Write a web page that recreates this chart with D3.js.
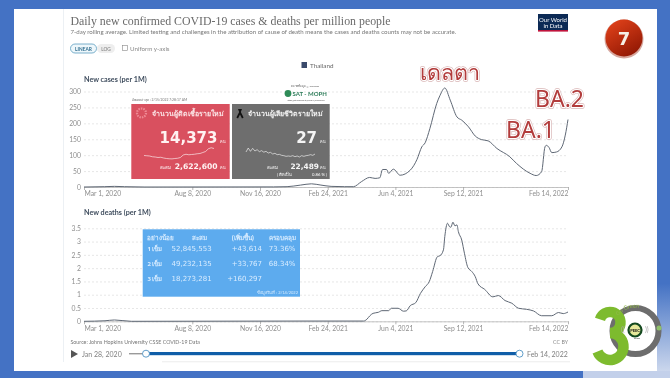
<!DOCTYPE html>
<html>
<head>
<meta charset="utf-8">
<script src="https://cdn.jsdelivr.net/npm/d3@7"></script>
<style>
html, body { margin: 0; padding: 0; background: #4472c4; overflow: hidden; }
svg { display: block; filter: blur(0.4px); font-family: Lato, "Noto Sans", sans-serif; }
.axis text { font-family: Lato, sans-serif; font-size: 6.8px; fill: #8f8f8f; }
.axis .tick line { stroke: #dddddd; stroke-dasharray: 2,2; stroke-width: 0.7; }
.x-axis .tick line { stroke: #999; stroke-dasharray: none; }
.domain { stroke: #b5b5b5; stroke-width: 0.8; }
</style>
</head>
<body>
<div id="chart"></div>
<script>
var caseDates = ["2020-03-01","2020-03-31","2020-04-15","2020-04-30","2020-05-30","2020-12-06","2020-12-26","2021-01-15","2021-01-31","2021-02-14","2021-03-01","2021-03-21","2021-04-03","2021-04-15","2021-04-27","2021-05-05","2021-05-12","2021-05-16","2021-05-22","2021-05-25","2021-06-01","2021-06-11","2021-06-26","2021-07-06","2021-07-13","2021-07-18","2021-07-25","2021-08-04","2021-08-09","2021-08-16","2021-08-24","2021-09-03","2021-09-10","2021-09-20","2021-09-30","2021-10-09","2021-10-19","2021-11-01","2021-11-20","2021-11-30","2021-12-20","2021-12-29","2022-01-06","2022-01-11","2022-01-13","2022-01-17","2022-01-21","2022-01-28","2022-02-05","2022-02-10","2022-02-14"];
var caseValues = [0,1,2,1,0,0.3,1,6,10,6,2,1,1,17,30,27,29,55,55,43,56,37,53,87,126,139,184,262,288,311,273,220,210,189,160,149,145,121,95,74,43,36,48,126,131,124,108,110,126,163,212];

var deathDates = ["2020-03-01","2020-04-01","2020-04-15","2020-05-10","2021-01-20","2021-04-18","2021-04-23","2021-04-27","2021-05-02","2021-05-10","2021-05-15","2021-05-25","2021-05-29","2021-06-08","2021-06-16","2021-06-20","2021-06-26","2021-07-04","2021-07-11","2021-07-18","2021-07-24","2021-07-29","2021-08-05","2021-08-09","2021-08-14","2021-08-16","2021-08-20","2021-08-23","2021-08-25","2021-08-28","2021-08-31","2021-09-03","2021-09-05","2021-09-10","2021-09-14","2021-09-19","2021-09-25","2021-09-30","2021-10-04","2021-10-14","2021-10-26","2021-11-03","2021-11-13","2021-11-23","2021-12-03","2021-12-15","2021-12-25","2022-01-06","2022-01-21","2022-01-31","2022-02-07","2022-02-14"];
var deathValues = [0,0.02,0.05,0,0.01,0.01,0.08,0.2,0.3,0.34,0.4,0.4,0.49,0.49,0.38,0.39,0.59,0.7,1.05,1.3,1.49,1.87,2.43,2.47,2.69,3.19,3.69,3.56,3.54,3.73,3.59,3.63,3.38,3.06,2.56,2.03,1.87,1.68,1.41,1.2,0.92,0.97,0.78,0.68,0.49,0.45,0.39,0.21,0.21,0.33,0.29,0.35];

var tickDates = ["2020-03-01","2020-08-08","2020-11-16","2021-02-24","2021-06-04","2021-09-12","2022-02-14"];
var caseTicks = [0,50,100,150,200,250,300];
var deathTicks = [0,0.5,1,1.5,2,2.5,3,3.5];

var redSpark = [8.2,8.0,7.8,7.2,7.0,6.6,6.8,6.2,5.8,5.6,5.5,5.8,6.0,6.6,8.6,9.2,8.8,9.0,9.2,9.6,9.8,10.6,11.4,13.6,14.4,13.8];
var graySpark = [56,80,60,78,62,70,58,64,55,60,50,54,44,48,40,42,36,34,30,32,30,34,28,32,26,34,30,34,36,40,36,44];

var vaxHeader = ["อย่างน้อย","สะสม","(เพิ่มขึ้น)","ครอบคลุม"];
var vaxDose = ["1 เข็ม","2 เข็ม","3 เข็ม"];
var vaxTotal = ["52,845,553","49,232,135","18,273,281"];
var vaxAdded = ["+43,614","+33,767","+160,297"];
var vaxCover = ["73.36%","68.34%",""];

var parseTime = d3.timeParse("%Y-%m-%d");
var width = 670, height = 378;

var svg = d3.select("#chart").append("svg").attr("width", width).attr("height", height);
var defs = svg.append("defs");

function gradient(id, x2, y2, stops){
	var g = defs.append("linearGradient").attr("id", id)
		.attr("x1", 0).attr("y1", 0).attr("x2", x2).attr("y2", y2);
	stops.forEach(function(s){ g.append("stop").attr("offset", s[0]).attr("stop-color", s[1]); });
}
gradient("side", 0, 1, [[0, "#4472c4"], [0.75, "#4472c4"], [1, "#d6dff0"]]);
gradient("badge", 0.6, 1, [[0, "#e8451c"], [1, "#951a05"]]);

function rect(x, y, w, h, fill){
	return svg.append("rect").attr("x", x).attr("y", y).attr("width", w).attr("height", h).attr("fill", fill);
}
function label(x, y, str, size, color, anchor, weight, family){
	return svg.append("text").attr("x", x).attr("y", y).text(str)
		.attr("font-size", size).attr("fill", color)
		.attr("text-anchor", anchor || "start")
		.attr("font-weight", weight || "normal")
		.attr("font-family", family || "Lato, 'Noto Sans', sans-serif");
}

/* slide background */
rect(0, 0, width, height, "#4472c4");
rect(657, 0, 13, height, "url(#side)");
rect(583, 371, 87, 7, "#c3d0ea");
rect(14, 9, 643, 362, "#ffffff");
rect(63, 9, 0.8, 353, "#e8edf2");
rect(162, 361.5, 408, 0.7, "#e4e4e4");

/* header */
label(70.5, 25, "Daily new confirmed COVID-19 cases & deaths per million people", 11.85, "#6a6a6a", "start", "normal", "'Liberation Serif', serif");
label(70.5, 33.5, "7-day rolling average. Limited testing and challenges in the attribution of cause of death means the cases and deaths counts may not be accurate.", 6.1, "#777777");

rect(538, 14, 30, 17, "#0c2a55");
rect(538, 30, 30, 1.6, "#c0143c");
label(553, 21.5, "Our World", 6, "#ffffff", "middle");
label(553, 28, "in Data", 6, "#ffffff", "middle");

rect(70.5, 44, 26, 9, "#eef7fb").attr("rx", 4.5).attr("stroke", "#5b9dbf").attr("stroke-width", 0.8);
rect(97, 44, 18, 9, "#eeeeee").attr("rx", 4.5);
label(83.5, 50.5, "LINEAR", 4.8, "#2f6d8f", "middle", "bold");
label(106, 50.5, "LOG", 4.8, "#777", "middle");
rect(122.5, 45.5, 5, 5, "#fff").attr("stroke", "#888").attr("stroke-width", 0.6);
label(130, 50.5, "Uniform y-axis", 6.2, "#8a8a8a");

rect(301.5, 62, 5.5, 6, "#3a4a6b");
label(310, 67.5, "Thailand", 6.3, "#666666");

/* scales */
var x = d3.scaleTime().domain([parseTime(tickDates[0]), parseTime(tickDates[6])]).range([84, 568]);
var yCases = d3.scaleLinear().domain([0, 300]).range([187, 91.5]);
var yDeaths = d3.scaleLinear().domain([0, 3.5]).range([321.3, 228.3]);

function panel(title, titleY, y, ticks, dates, values){
	label(84, titleY, title, 7.2, "#3f4d5e", "start", "bold");

	var gy = svg.append("g").attr("class", "axis y-axis").attr("transform", "translate(84,0)")
		.call(d3.axisLeft(y).tickValues(ticks).tickSize(-484).tickPadding(3).tickFormat(d3.format("")));
	gy.select(".domain").remove();

	var gx = svg.append("g").attr("class", "axis x-axis").attr("transform", "translate(0," + y(0) + ")")
		.call(d3.axisBottom(x).tickValues(tickDates.map(parseTime)).tickSize(3).tickSizeOuter(0).tickPadding(1.5).tickFormat(d3.timeFormat("%b %-d, %Y")));
	gx.selectAll("text").style("text-anchor", function(d, i){
		return i == 0 ? "start" : (i == tickDates.length - 1 ? "end" : "middle");
	});

	var line = d3.line()
		.x(function(d, i){ return x(parseTime(dates[i])); })
		.y(function(d){ return y(d); })
		.curve(d3.curveMonotoneX);

	svg.append("path").datum(values).attr("fill", "none")
		.attr("stroke", "#5f6875").attr("stroke-width", 1).attr("d", line);
}

panel("New cases (per 1M)", 82, yCases, caseTicks, caseDates, caseValues);
panel("New deaths (per 1M)", 215, yDeaths, deathTicks, deathDates, deathValues);

/* footer */
label(70.5, 343.5, "Source: Johns Hopkins University CSSE COVID-19 Data", 5.3, "#777777");
label(568, 343.5, "CC BY", 5.3, "#888888", "end");
svg.append("path").attr("d", d3.line()([[71, 350], [71, 358], [78, 354]])).attr("fill", "#555");
label(82, 356.5, "Jan 28, 2020", 7, "#808080");
label(527, 356.5, "Feb 14, 2022", 7, "#808080");
rect(129, 353, 17, 1.4, "#9a9a9a");
rect(146, 352, 373, 3.2, "#0f5ea8");
[146, 519.5].forEach(function(cx){
	svg.append("circle").attr("cx", cx).attr("cy", 353.7).attr("r", 3.5)
		.attr("fill", "#fff").attr("stroke", "#4f93c4").attr("stroke-width", 0.9);
});

/* pasted dashboard cards */
label(132, 100.5, "อัพเดตล่าสุด : 2/15/2022 7:28:17 AM", 3.4, "#777777");
rect(131.3, 104, 98.4, 75, "#d9505f");
rect(232, 104, 97.7, 75, "#6e6e6e");
svg.append("circle").attr("cx", 141.5).attr("cy", 113).attr("r", 4.5)
	.attr("fill", "none").attr("stroke", "#ee8a94").attr("stroke-width", 2.2).attr("stroke-dasharray", "1.5,1");
label(152, 116, "จำนวนผู้ติดเชื้อรายใหม่", 7, "#fbe3e5", "start", "bold", "'Noto Sans', 'DejaVu Sans', sans-serif");
label(217.5, 143, "14,373", 15, "#fff2f2", "end", "bold", "'DejaVu Sans', sans-serif");
label(219.5, 143, "คน", 3.8, "#fff", "start");
label(160, 169, "สะสม", 4.4, "#fff", "start");
label(217.5, 169, "2,622,600", 7.6, "#fff2f2", "end", "bold", "'DejaVu Sans', sans-serif");
label(219.5, 169, "คน", 3.8, "#fff", "start");

svg.append("path").attr("d", "M238,109 l4,0 l-1.2,3 l2.8,5.5 l-1.6,1 l-2,-4 l-2,4 l-1.6,-1 l2.8,-5.5 z").attr("fill", "#111");
label(248, 116, "จำนวนผู้เสียชีวิตรายใหม่", 7, "#f2f2f2", "start", "bold", "'Noto Sans', 'DejaVu Sans', sans-serif");
label(317, 143, "27", 15, "#f5f5f5", "end", "bold", "'DejaVu Sans', sans-serif");
label(319.5, 143, "คน", 3.8, "#fff", "start");
label(267, 169, "สะสม", 4.4, "#fff", "start");
label(319, 169, "22,489", 7.4, "#f5f5f5", "end", "bold", "'DejaVu Sans', sans-serif");
label(319.5, 169, "คน", 3.8, "#fff", "start");
label(277, 176, "( ติดเป็น", 4, "#fff", "start");
label(327, 176, "0.86 % )", 4.2, "#fff", "end");

var sparkLine = function(values, x0, x1, y0, y1, domain){
	var sx = d3.scaleLinear().domain([0, values.length - 1]).range([x0, x1]);
	var sy = d3.scaleLinear().domain(domain).range([y0, y1]);
	svg.append("path").datum(values).attr("fill", "none").attr("stroke", "#fff").attr("stroke-width", 0.6)
		.attr("d", d3.line().x(function(d, i){ return sx(i); }).y(function(d){ return sy(d); }));
};
sparkLine(redSpark, 144, 214, 159.5, 147, [5, 15]);
sparkLine(graySpark, 246, 315, 158, 148, [20, 80]);

/* SAT MOPH logo */
label(305, 87, "สถานีข้อมูล @ Thailand", 2.6, "#555", "middle");
svg.append("circle").attr("cx", 288).attr("cy", 93.5).attr("r", 3.4).attr("fill", "#2e8b57");
label(292.5, 96, "SAT - MOPH", 6, "#2e7d5a", "start", "bold");
label(306, 101, "https://sat.moph.go.th/covid19/dashboard", 2, "#555", "middle");

/* vaccine table */
rect(142.7, 229.3, 157.3, 67.4, "#5dabee");
var tableColor = "#d8ecff";
var colX = [147, 199.5, 254, 296];
var colAnchor = ["start", "middle", "end", "end"];
vaxHeader.forEach(function(d, i){
	label(colX[i], 240, d, 6.3, tableColor, colAnchor[i], "bold", "'Noto Sans', sans-serif");
});
vaxDose.forEach(function(d, i){
	var rowY = 251 + i * 15;
	label(147.5, rowY, d, 6, tableColor, "start", "bold", "'Noto Sans', sans-serif");
	label(171.5, rowY, vaxTotal[i], 7, tableColor, "start", "normal", "'DejaVu Sans', sans-serif");
	label(262, rowY, vaxAdded[i], 7, tableColor, "end", "normal", "'DejaVu Sans', sans-serif");
	label(295.5, rowY, vaxCover[i], 7, tableColor, "end", "normal", "'DejaVu Sans', sans-serif");
});
label(298, 293.5, "ข้อมูลวันที่ : 2/14/2022", 4, tableColor, "end");

/* annotations */
function note(x0, y0, str, size){
	[["#d9b6b6", 3.5], ["#ffffff", 2.2]].forEach(function(s){
		label(x0, y0, str, size, s[0], "start", "normal", "'Noto Sans', 'DejaVu Sans', sans-serif")
			.attr("stroke", s[0]).attr("stroke-width", s[1]).attr("stroke-linejoin", "round");
	});
	label(x0, y0, str, size, "#b23c3c", "start", "normal", "'Noto Sans', 'DejaVu Sans', sans-serif");
}
note(420, 80, "เดลตา", 21.5);
note(535, 107, "BA.2", 23);
note(506, 138, "BA.1", 23);

/* badge */
svg.append("circle").attr("cx", 624).attr("cy", 39).attr("r", 19.5).attr("fill", "#bb6a5c").attr("opacity", 0.6);
svg.append("circle").attr("cx", 624).attr("cy", 38).attr("r", 18.5).attr("fill", "url(#badge)");
label(624, 44.5, "7", 18, "#f5efe6", "middle", "bold", "'DejaVu Sans', sans-serif");

/* 30 years logo */
svg.append("circle").attr("cx", 635.5).attr("cy", 331).attr("r", 23).attr("fill", "none").attr("stroke", "#6d6d6d").attr("stroke-width", 6);
svg.append("circle").attr("cx", 659).attr("cy", 328).attr("r", 2.5).attr("fill", "#8fc06a");

var three = d3.path();
three.arc(610, 322.5, 10.5, Math.PI * 1.1, Math.PI * 2.5);
three.moveTo(610, 333);
three.arc(610, 346.5, 13.5, -Math.PI / 2, Math.PI * 0.88);
svg.append("path").attr("d", three.toString()).attr("fill", "none").attr("stroke", "#7dbb2e").attr("stroke-width", 10.5);

svg.append("circle").attr("cx", 635).attr("cy", 330).attr("r", 6.5).attr("fill", "#e6e89a").attr("stroke", "#14491f").attr("stroke-width", 2.2);
label(635, 331.5, "PEEC", 4, "#111", "middle", "bold");
label(637, 338.5, "Zoom", 2.4, "#333", "middle");
label(621, 332, "((", 7, "#aaa");
label(645, 332, "))", 7, "#aaa");
defs.append("path").attr("id", "ringText").attr("d", "M618,316 A21.5,21.5 0 0 1 654,319");
svg.append("text").attr("font-size", 5.6).attr("fill", "#8fb84a")
	.append("textPath").attr("href", "#ringText").text("Go Green");
</script>
</body>
</html>
